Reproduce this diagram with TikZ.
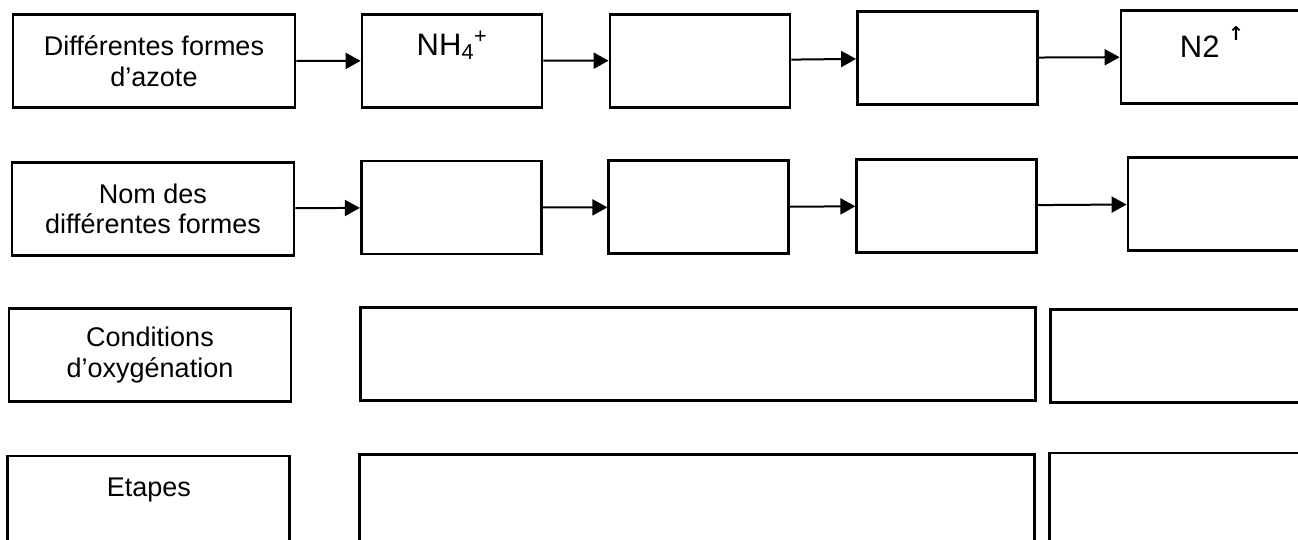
\documentclass[tikz,border=0pt]{standalone}
\usepackage{fix-cm}
\usepackage{amsmath}
\usepackage{fontspec}
\setmainfont{Liberation Sans}
\newfontfamily\arrowfont{DejaVu Sans}
\usetikzlibrary{arrows.meta}

\begin{document}
\begin{tikzpicture}[x=1pt,y=-1pt,
  head/.style={draw,line width=2.8pt,inner sep=0pt,minimum width=282pt,minimum height=93pt,align=center,font=\fontsize{27}{30.5}\selectfont},
  cell/.style={draw,line width=2.8pt,inner sep=0pt,minimum width=180pt,minimum height=93pt},
  wide/.style={cell,minimum width=675pt},
  chem/.style={inner sep=0pt,anchor=base,font=\fontsize{31}{36}\selectfont},
  flow/.style={-{Triangle[length=15pt,width=16pt]},line width=2pt}]
  \useasboundingbox (0,0) rectangle (1298,539);
  \clip (0,0) rectangle (1298,539);
  % Differentes formes d'azote
  \node[head] (a1) at (154,61) {Différentes formes\\d’azote};
  \node[cell] (b1) at (452,60.8) {};
  \node[chem] (nh4) at (452,55) {NH\textsubscript{4}\textsuperscript{+}};
  \node[cell] (c1) at (700,60.6) {};
  \node[cell] (d1) at (947.5,57.9) {};
  \node[cell] (e1) at (1211,56.8) {};
  \node[chem] (n2) at (1212,57.9) {N2 \raisebox{17pt}{\arrowfont\bfseries\fontsize{19}{19}\selectfont ↑}};
  \draw[flow] (a1) -- (b1);
  \draw[flow] (b1) -- (c1);
  \draw[flow] (c1) -- (d1);
  \draw[flow] (d1) -- (e1);
  % Nom des formes
  \node[head] (a2) at (153,208.8) {Nom des\\différentes formes};
  \node[cell] (b2) at (451.3,207.5) {};
  \node[cell] (c2) at (698.8,207.3) {};
  \node[cell] (d2) at (946.8,205.7) {};
  \node[cell] (e2) at (1218,203.9) {};
  \draw[flow] (a2) -- (b2);
  \draw[flow] (b2) -- (c2);
  \draw[flow] (c2) -- (d2);
  \draw[flow] (d2) -- (e2);
  % Conditions d'oxygenation
  \node[head] (a3) at (150,355) {Conditions\\d’oxygénation};
  \node[wide] (b3) at (698.2,353.8) {};
  \node[cell,minimum width=280pt] (c3) at (1190.5,356.2) {};
  % Etapes
  \node[head] (a4) at (148.8,502.5) {Etapes\\~};
  \node[wide] (b4) at (697,501) {};
  \node[cell,minimum width=280pt] (c4) at (1189.5,499.5) {};
\end{tikzpicture}
\end{document}
